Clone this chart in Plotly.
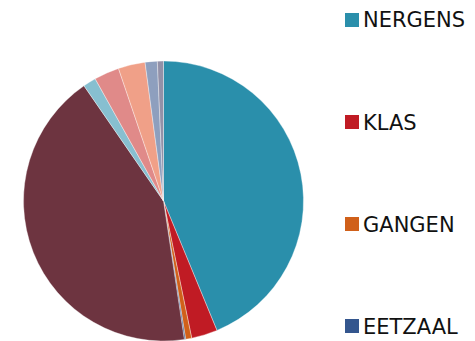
import plotly.graph_objects as go

# Where pupils say the incident happened (share of answers, %)
labels = ["NERGENS", "KLAS", "GANGEN", "EETZAAL", "SPEELPLAATS",
          "TOILETTEN", "TURNZAAL", "BUS", "ONDERWEG", "ANDERS"]
values = [43.7, 3.0, 0.7, 0.15, 42.7, 1.5, 2.9, 3.1, 1.4, 0.7]
colors = ["#2A8FAB", "#C01B24", "#D0601A", "#34568E", "#6D3440",
          "#87BFD0", "#E08A89", "#F0A088", "#8E9FBE", "#9391A8"]

# Number of entries shown in the legend column
legend_count = 4

W, H = 475, 341

fig = go.Figure(go.Pie(
    labels=labels,
    values=values,
    sort=False,
    direction="clockwise",
    rotation=0,
    textinfo="none",
    hoverinfo="label+percent",
    marker=dict(colors=colors, line=dict(color="rgba(255,255,255,0.6)", width=0.6)),
    domain=dict(x=[23.5 / W, 303.5 / W], y=[0.0, 280 / H]),
    showlegend=False,
))

# Legend column: colour square + label, evenly spaced
legend_top = 20
legend_step = 102
shapes = []
annotations = []
for i in range(legend_count):
    yc = legend_top + i * legend_step
    shapes.append(dict(
        type="rect", xref="paper", yref="paper",
        x0=345 / W, x1=359 / W,
        y0=1 - (yc + 7) / H, y1=1 - (yc - 7) / H,
        fillcolor=colors[i], line=dict(width=0),
    ))
    annotations.append(dict(
        xref="paper", yref="paper",
        x=361 / W, y=1 - (yc + 0.5) / H,
        xanchor="left", yanchor="middle",
        text=labels[i], showarrow=False,
        font=dict(family="DejaVu Sans", size=21, color="#111111"),
    ))

fig.update_layout(
    width=W, height=H,
    margin=dict(l=0, r=0, t=0, b=0),
    paper_bgcolor="white",
    plot_bgcolor="white",
    shapes=shapes,
    annotations=annotations,
)

fig.write_html("out.html")
